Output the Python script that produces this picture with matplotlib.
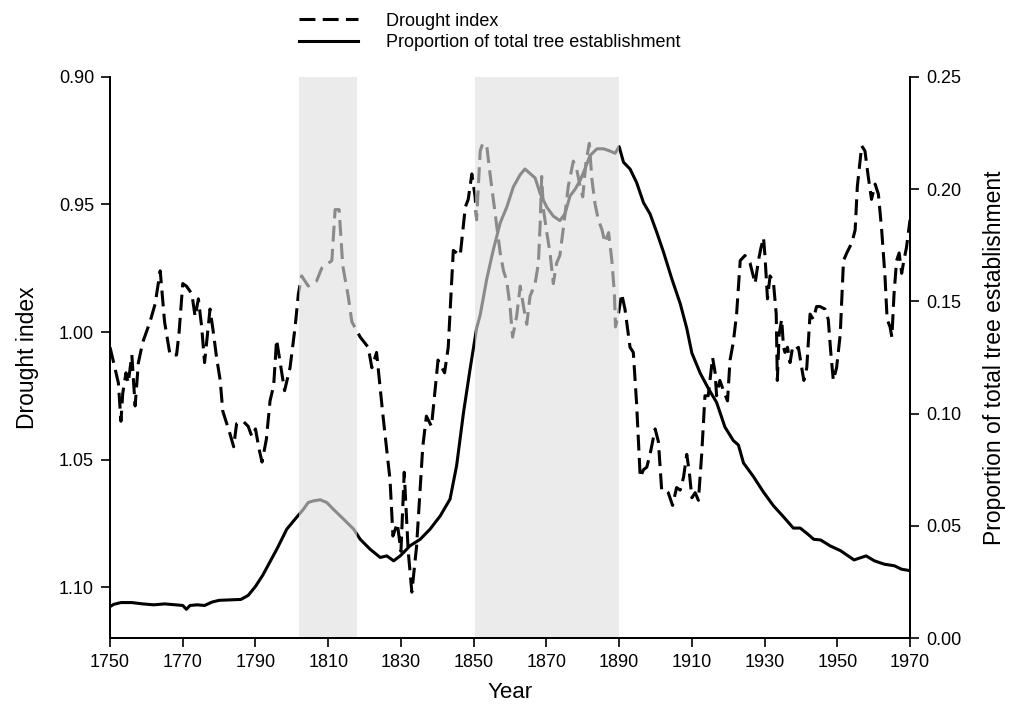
import numpy as np
import matplotlib.pyplot as plt
from matplotlib.lines import Line2D
from matplotlib.patches import PathPatch
from matplotlib.path import Path
from matplotlib.transforms import Affine2D

plt.rcParams['font.family'] = ['Liberation Sans', 'DejaVu Sans']

# drought index (left axis, inverted)
drought_years = [1750, 1751, 1752.3, 1753, 1753.5, 1754.4, 1755, 1756, 1756.9, 1757.8,
                 1759, 1761, 1762.4, 1763.8, 1765, 1766.5, 1768.3, 1769, 1770, 1771,
                 1772.5, 1773.4, 1774.3, 1775.2, 1776, 1777.5, 1778.4, 1779.3, 1780.3, 1781,
                 1783, 1784, 1784.8, 1786.6, 1788, 1789, 1790, 1791, 1791.8, 1793,
                 1794, 1795, 1795.8, 1796.8, 1798, 1799.5, 1800.9, 1801.8, 1802.7, 1804.5,
                 1806.8, 1808.2, 1811, 1811.9, 1813, 1814, 1815.5, 1816.5, 1818.8, 1821,
                 1822, 1823.3, 1825, 1827, 1827.8, 1829, 1830, 1830.9, 1832, 1833,
                 1834.3, 1836, 1837, 1838.4, 1840.2, 1842, 1843, 1844.4, 1846.3, 1847.7,
                 1848.5, 1849.5, 1850.4, 1850.8, 1851.8, 1852.5, 1853.6, 1854.5, 1855.4, 1856.4,
                 1857.3, 1858.2, 1859.1, 1860, 1860.7, 1861.8, 1862.8, 1863.7, 1864.6, 1865.5,
                 1866.9, 1867.8, 1868.3, 1868.7, 1869.2, 1870.1, 1871, 1871.9, 1872.8, 1873.7,
                 1874.6, 1876, 1877.4, 1878.3, 1879.3, 1880, 1880.9, 1881.8, 1882.5, 1883.4,
                 1884.3, 1885.3, 1886.1, 1887.1, 1888, 1888.7, 1889, 1889.8, 1890.7, 1891.6,
                 1893, 1893.9, 1894.8, 1895.8, 1896.7, 1897.6, 1898.5, 1899.9, 1900.8, 1901.7,
                 1902.6, 1903.5, 1904.7, 1905.8, 1906.8, 1907.7, 1908.6, 1909.3, 1910, 1910.9,
                 1911.8, 1912.7, 1913.6, 1914.5, 1915.7, 1916.4, 1916.8, 1917.7, 1918.7, 1919.8,
                 1920.5, 1921.4, 1922.3, 1923.3, 1924.6, 1926, 1927.4, 1928.3, 1929, 1929.7,
                 1930.1, 1930.8, 1931.5, 1932.4, 1933.2, 1933.5, 1934, 1934.7, 1935.2, 1935.6,
                 1936.3, 1937, 1937.7, 1938.4, 1939.3, 1940.2, 1940.8, 1941.6, 1942.5, 1943.4,
                 1944.3, 1945.2, 1946.6, 1947.5, 1948.2, 1948.9, 1949.8, 1950.8, 1951.7, 1952.6,
                 1954, 1954.9, 1955.5, 1956.7, 1957.6, 1958.5, 1959.4, 1960.4, 1961.3, 1962.2,
                 1963.1, 1963.7, 1964.5, 1965, 1965.6, 1966.3, 1967, 1967.7, 1968.3, 1969, 1970]
drought_vals = [1.006, 1.012, 1.020, 1.035, 1.024, 1.016, 1.020, 1.009, 1.029, 1.012,
                1.004, 0.996, 0.989, 0.976, 0.996, 1.009, 1.009, 1.000, 0.981, 0.982,
                0.985, 0.994, 0.987, 0.998, 1.012, 0.991, 1.000, 1.010, 1.019, 1.031,
                1.040, 1.045, 1.036, 1.035, 1.037, 1.041, 1.038, 1.046, 1.051, 1.042,
                1.027, 1.021, 1.003, 1.012, 1.023, 1.014, 0.998, 0.985, 0.978, 0.982,
                0.980, 0.975, 0.972, 0.952, 0.952, 0.974, 0.986, 0.996, 1.002, 1.006,
                1.014, 1.008, 1.032, 1.058, 1.080, 1.075, 1.086, 1.055, 1.086, 1.102,
                1.084, 1.045, 1.033, 1.037, 1.011, 1.016, 1.006, 0.968, 0.970, 0.951,
                0.948, 0.938, 0.947, 0.956, 0.929, 0.926, 0.927, 0.938, 0.948, 0.959,
                0.969, 0.976, 0.980, 0.990, 1.002, 0.994, 0.982, 0.990, 0.997, 0.986,
                0.981, 0.973, 0.957, 0.939, 0.952, 0.961, 0.969, 0.981, 0.973, 0.970,
                0.960, 0.943, 0.933, 0.936, 0.943, 0.947, 0.933, 0.926, 0.940, 0.950,
                0.956, 0.960, 0.965, 0.961, 0.972, 0.985, 0.998, 0.993, 0.985, 0.991,
                1.006, 1.008, 1.028, 1.057, 1.054, 1.053, 1.048, 1.038, 1.043, 1.062,
                1.062, 1.063, 1.068, 1.061, 1.062, 1.057, 1.048, 1.055, 1.065, 1.063,
                1.066, 1.048, 1.025, 1.025, 1.010, 1.016, 1.025, 1.019, 1.023, 1.027,
                1.011, 1.004, 0.993, 0.972, 0.970, 0.973, 0.981, 0.972, 0.967, 0.963,
                0.970, 0.987, 0.978, 0.980, 0.993, 1.019, 1.001, 0.995, 1.006, 1.008,
                1.006, 1.012, 1.006, 1.007, 1.006, 1.014, 1.019, 1.014, 0.993, 0.995,
                0.990, 0.990, 0.991, 0.995, 1.008, 1.019, 1.014, 1.001, 0.972, 0.969,
                0.965, 0.960, 0.943, 0.927, 0.929, 0.939, 0.948, 0.942, 0.946, 0.960,
                0.978, 0.995, 0.998, 1.002, 0.985, 0.972, 0.969, 0.977, 0.972, 0.967, 0.956]

# proportion of total tree establishment (right axis)
prop_years = [1750, 1751, 1753, 1756, 1759, 1762, 1765, 1768, 1770, 1771,
              1772, 1774, 1776, 1778, 1780, 1783, 1786, 1788, 1790, 1792,
              1794, 1796, 1798.6, 1800.9, 1803.2, 1804.5, 1805.9, 1807.8, 1809.6, 1811.4,
              1814.2, 1817, 1818.8, 1821.5, 1824.3, 1826.1, 1828, 1829.8, 1832.5, 1835.3,
              1838, 1840.8, 1843.5, 1845.3, 1847.2, 1849, 1850.8, 1851.8, 1853.6, 1855.4,
              1857.3, 1859.1, 1860.9, 1862.8, 1864.1, 1865.5, 1866.9, 1868.3, 1870.1, 1871.9,
              1873.7, 1875.1, 1876.5, 1877.9, 1879.3, 1880.6, 1882, 1883.9, 1885.7, 1887.5,
              1888.9, 1890, 1891.2, 1893, 1894.8, 1896.7, 1898.5, 1900.3, 1902.2, 1904.5,
              1906.8, 1908.6, 1910, 1912.3, 1914.6, 1916.8, 1919.1, 1921.4, 1922.8, 1924.2,
              1926.9, 1929.7, 1932.4, 1935.2, 1937.9, 1939.8, 1942.1, 1943.5, 1945.4, 1948.1,
              1950.9, 1954.6, 1957.9, 1960.2, 1962.9, 1965.7, 1967.6, 1970]
prop_vals = [0.014, 0.015, 0.0158, 0.0158, 0.0152, 0.0148, 0.0152, 0.0148, 0.0145, 0.0128,
             0.0145, 0.0148, 0.0145, 0.016, 0.0168, 0.017, 0.0172, 0.019, 0.023, 0.028,
             0.034, 0.040, 0.0485, 0.053, 0.0574, 0.0604, 0.0611, 0.0616, 0.0604, 0.0574,
             0.053, 0.0485, 0.044, 0.0396, 0.0359, 0.0366, 0.0344, 0.0366, 0.0411, 0.044,
             0.0485, 0.0544, 0.0619, 0.0767, 0.1004, 0.1197, 0.138, 0.144, 0.160, 0.173,
             0.185, 0.192, 0.201, 0.2065, 0.209, 0.207, 0.205, 0.198, 0.192, 0.188,
             0.186, 0.189, 0.197, 0.200, 0.204, 0.209, 0.215, 0.218, 0.218, 0.217,
             0.216, 0.219, 0.212, 0.209, 0.203, 0.194, 0.189, 0.181, 0.172, 0.160,
             0.149, 0.138, 0.127, 0.118, 0.111, 0.105, 0.094, 0.088, 0.086, 0.078,
             0.072, 0.065, 0.059, 0.054, 0.049, 0.049, 0.046, 0.044, 0.0437, 0.041,
             0.0389, 0.0348, 0.0366, 0.0344, 0.0329, 0.0322, 0.0307, 0.030]

bands = [(1802, 1818), (1850.5, 1890)]
outside = [(1740, 1802), (1818, 1850.5), (1890, 1980)]
xticks = list(range(1750, 1971, 20))


def clip_patch(ax, spans):
    # clip region made of vertical strips (x in data, y in axes coords)
    rects = [Path.unit_rectangle().transformed(Affine2D().scale(b - a, 3).translate(a, -1))
             for a, b in spans]
    return PathPatch(Path.make_compound_path(*rects), transform=ax.get_xaxis_transform())


fig = plt.figure(figsize=(10.15, 7.05), dpi=100)
ax = fig.add_axes([0.1084, 0.0950, 0.7882, 0.7958])
ax2 = ax.twinx()

for a, b in bands:
    ax.axvspan(a, b, color='#ebebeb', lw=0, zorder=0)

lw = 2.2
dash = (5.2, 2.4)
l1 = ax.plot(drought_years, drought_vals, color='black', lw=lw, dashes=dash)[0]
l1.set_clip_path(clip_patch(ax, outside))
l1g = ax.plot(drought_years, drought_vals, color='#8a8a8a', lw=lw, dashes=dash)[0]
l1g.set_clip_path(clip_patch(ax, bands))

l2 = ax2.plot(prop_years, prop_vals, color='black', lw=lw)[0]
l2.set_clip_path(clip_patch(ax2, outside))
l2g = ax2.plot(prop_years, prop_vals, color='#8a8a8a', lw=lw)[0]
l2g.set_clip_path(clip_patch(ax2, bands))

ax.set_xlim(1750, 1970)
ax.set_ylim(1.12, 0.90)
ax.set_yticks([0.90, 0.95, 1.00, 1.05, 1.10])
ax.set_yticklabels(['0.90', '0.95', '1.00', '1.05', '1.10'])
ax.set_xticks(xticks)
ax2.set_ylim(0, 0.25)
ax2.set_yticks([0, 0.05, 0.10, 0.15, 0.20, 0.25])
ax2.set_yticklabels(['0.00', '0.05', '0.10', '0.15', '0.20', '0.25'])

for a in (ax, ax2):
    a.spines['top'].set_visible(False)
    for s in a.spines.values():
        s.set_linewidth(1.3)
    a.tick_params(direction='out', length=6.5, width=1.2, labelsize=13, pad=5)

ax.set_xlabel('Year', fontsize=16, labelpad=8)
ax.set_ylabel('Drought index', fontsize=16.5, labelpad=14)
ax2.set_ylabel('Proportion of total tree establishment', fontsize=16.5, labelpad=16)

handles = [Line2D([], [], color='black', lw=lw, dashes=dash),
           Line2D([], [], color='black', lw=lw)]
fig.legend(handles, ['Drought index', 'Proportion of total tree establishment'],
           loc='upper left', bbox_to_anchor=(0.282, 1.0), frameon=False,
           fontsize=13, handlelength=3.3, handletextpad=1.5, labelspacing=0.25,
           borderpad=0.2)

fig.savefig('out.png', dpi=100)
